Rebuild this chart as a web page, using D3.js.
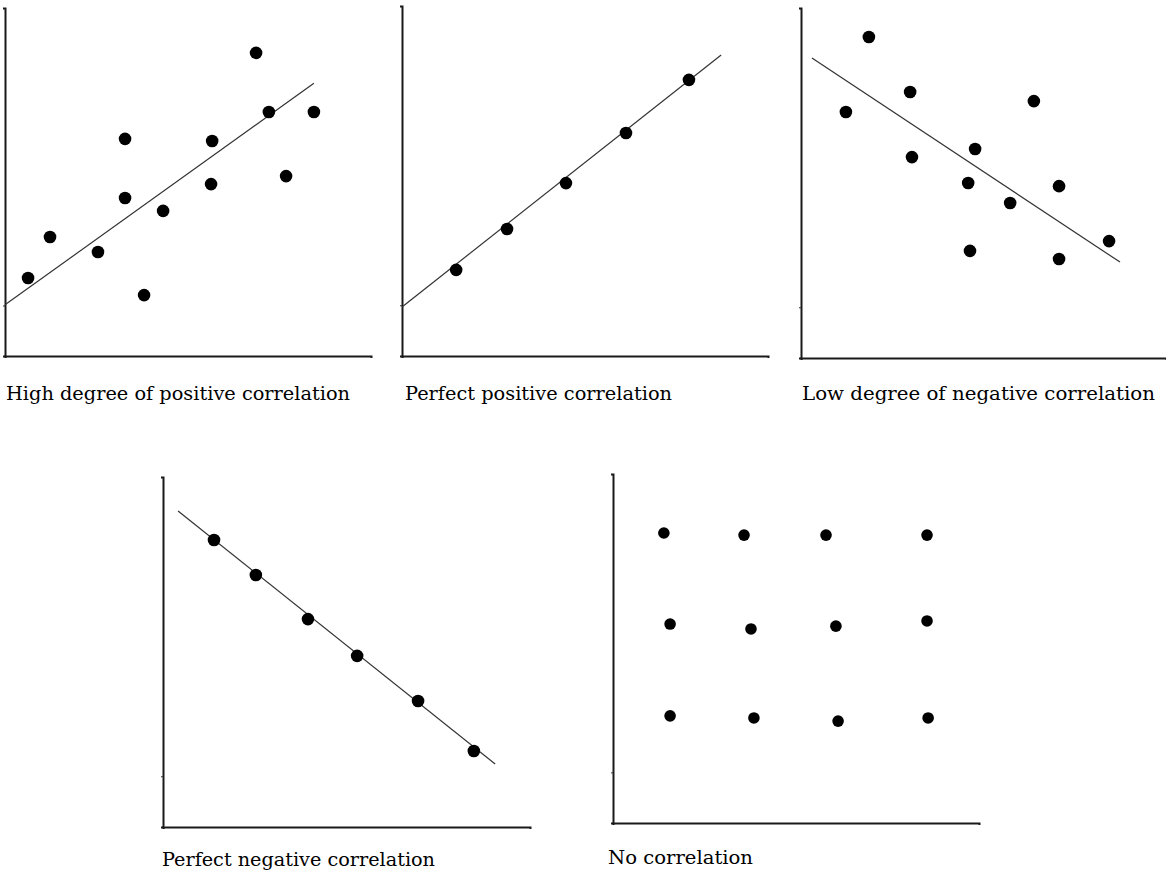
<!DOCTYPE html>
<html>
<head>
<meta charset="utf-8">
<script src="https://cdn.jsdelivr.net/npm/d3@7"></script>
<style>
  html, body { margin: 0; padding: 0; background: #fff; }
  svg { display: block; }
</style>
</head>
<body>
<svg id="chart" width="1166" height="873"></svg>
<script>
// ---- Data (axis units 0..10 on each panel) ----
const titles = [
  "High degree of positive correlation",
  "Perfect positive correlation",
  "Low degree of negative correlation",
  "Perfect negative correlation",
  "No correlation"
];

const highPosX = [0.63, 1.23, 2.54, 3.28, 3.28, 3.80, 4.32, 5.66, 5.63, 6.86, 7.21, 7.68, 8.44];
const highPosY = [2.24, 3.42, 2.99, 6.24, 4.54, 1.75, 4.17, 6.18, 4.94, 8.71, 7.01, 5.17, 7.01];
const highPosLineX = [0, 8.44];
const highPosLineY = [1.47, 7.84];

const perfPosX = [1.48, 2.87, 4.48, 6.12, 7.84];
const perfPosY = [2.46, 3.63, 4.94, 6.37, 7.89];
const perfPosLineX = [0, 8.72];
const perfPosLineY = [1.40, 8.60];

const lowNegX = [1.86, 1.23, 2.99, 3.04, 6.38, 4.77, 4.58, 5.73, 7.07, 8.44, 4.63, 7.07];
const lowNegY = [9.17, 7.03, 7.60, 5.74, 7.34, 5.97, 5.00, 4.43, 4.91, 3.34, 3.06, 2.83];
const lowNegLineX = [0.30, 8.74];
const lowNegLineY = [8.57, 2.74];

const perfNegX = [1.39, 2.53, 3.95, 5.29, 6.95, 8.47];
const perfNegY = [8.20, 7.20, 5.94, 4.89, 3.60, 2.17];
const perfNegLineX = [0.41, 9.05];
const perfNegLineY = [9.03, 1.80];

const noCorrX = [1.39, 3.58, 5.82, 8.58, 1.56, 3.77, 6.09, 8.58, 1.56, 3.85, 6.15, 8.61];
const noCorrY = [8.31, 8.25, 8.25, 8.25, 5.70, 5.56, 5.64, 5.79, 3.07, 3.01, 2.92, 3.01];

const yTickValues = [1.45];
const axisDomain = [0, 10];

// ---- Layout ----
const layout = [
  { left: 5,   right: 371,  bottom: 356, top: 8,   tx: 6,   ty: 400, tw: 344, r: 6.3,
    xs: highPosX, ys: highPosY, lx: highPosLineX, ly: highPosLineY },
  { left: 402, right: 768,  bottom: 356, top: 6,   tx: 405, ty: 400, tw: 267, r: 6.3,
    xs: perfPosX, ys: perfPosY, lx: perfPosLineX, ly: perfPosLineY },
  { left: 801, right: 1166, bottom: 358, top: 8,   tx: 802, ty: 400, tw: 353, r: 6.3,
    xs: lowNegX, ys: lowNegY, lx: lowNegLineX, ly: lowNegLineY },
  { left: 163, right: 530,  bottom: 827, top: 477, tx: 162, ty: 866, tw: 273, r: 6.3,
    xs: perfNegX, ys: perfNegY, lx: perfNegLineX, ly: perfNegLineY },
  { left: 613, right: 979,  bottom: 823, top: 474, tx: 608, ty: 864, tw: 145, r: 5.8,
    xs: noCorrX, ys: noCorrY, lx: null, ly: null }
];

const svg = d3.select("#chart");

layout.forEach((p, i) => {
  const x = d3.scaleLinear().domain(axisDomain).range([p.left, p.right]);
  const y = d3.scaleLinear().domain(axisDomain).range([p.bottom, p.top]);
  const g = svg.append("g");

  // y axis
  g.append("g")
    .attr("transform", `translate(${p.left},0)`)
    .call(d3.axisLeft(y).tickValues(yTickValues).tickSize(2).tickSizeOuter(2).tickFormat(""));
  // x axis
  g.append("g")
    .attr("transform", `translate(0,${p.bottom})`)
    .call(d3.axisBottom(x).tickValues([]).tickSizeOuter(2));

  g.selectAll(".domain").attr("stroke", "#1a1a1a").attr("stroke-width", 2);
  g.selectAll(".tick line").attr("stroke", "#333").attr("stroke-width", 1);

  // trend line
  if (p.lx) {
    const pts = p.lx.map((v, k) => [v, p.ly[k]]);
    g.append("path")
      .datum(pts)
      .attr("fill", "none")
      .attr("stroke", "#333")
      .attr("stroke-width", 1.2)
      .attr("d", d3.line().x(d => x(d[0])).y(d => y(d[1])));
  }

  // dots
  g.selectAll("circle.dot")
    .data(p.xs.map((v, k) => [v, p.ys[k]]))
    .join("circle")
    .attr("class", "dot")
    .attr("cx", d => x(d[0]))
    .attr("cy", d => y(d[1]))
    .attr("r", p.r)
    .attr("fill", "#000");

  // caption
  g.append("text")
    .attr("x", p.tx)
    .attr("y", p.ty)
    .attr("font-family", "'DejaVu Serif', 'Liberation Serif', serif")
    .attr("font-size", 18)
    .attr("fill", "#000")
    .attr("textLength", p.tw)
    .attr("lengthAdjust", "spacingAndGlyphs")
    .text(titles[i]);
});
</script>
</body>
</html>
